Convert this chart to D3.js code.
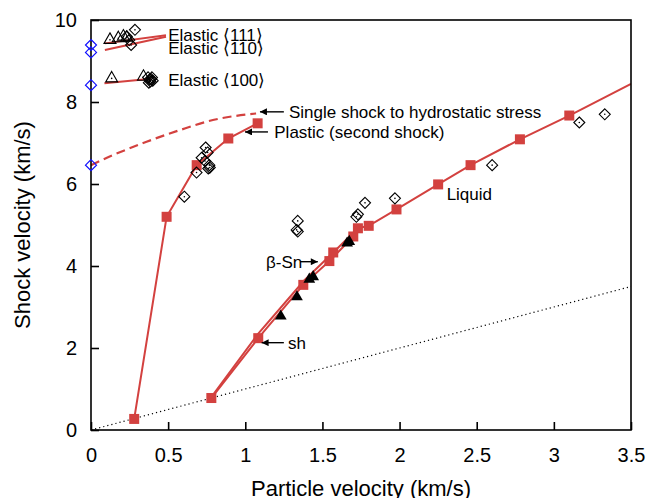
<!DOCTYPE html>
<html>
<head>
<meta charset="utf-8">
<script src="https://cdn.jsdelivr.net/npm/d3@7"></script>
<style>
  body { margin: 0; background: #fff; }
  text { font-family: "Liberation Sans", Arial, Helvetica, sans-serif; fill: #000; }
</style>
</head>
<body>
<div id="chart"></div>
<script>
// ---- data (particle velocity up, shock velocity us, km/s) ----
const plasticUp = [0.28, 0.49, 0.685, 0.89, 1.08];
const plasticUs = [0.27, 5.2, 6.46, 7.11, 7.48];

const hydroUp = [0, 0.14, 0.36, 0.58, 0.79, 1.07];   // single shock to hydrostatic stress
const hydroUs = [6.46, 6.7, 7.03, 7.32, 7.56, 7.72];

const el111Up = [0.09, 0.486], el111Us = [9.43, 9.63];
const el110Up = [0.09, 0.486], el110Us = [9.27, 9.59];
const el100Up = [0.087, 0.39], el100Us = [8.46, 8.57];

const shUp = [0.78, 1.084, 1.376, 1.545, 1.70];
const shUs = [0.78, 2.24, 3.54, 4.12, 4.72];
const bSnUp = [0.78, 1.08, 1.38, 1.57, 1.73];
const bSnUs = [0.80, 2.33, 3.64, 4.33, 4.92];
const liqUp = [1.73, 1.8, 1.98, 2.25, 2.46, 2.78, 3.1, 3.5];
const liqUs = [4.92, 4.98, 5.38, 5.99, 6.46, 7.09, 7.67, 8.44];

// red square markers (calculations)
const sqUp = [0.28, 0.49, 0.685, 0.89, 1.08, 0.78, 1.084, 1.376, 1.545, 1.70, 1.57, 1.73,
              1.8, 1.98, 2.25, 2.46, 2.78, 3.1];
const sqUs = [0.27, 5.2, 6.46, 7.11, 7.48, 0.78, 2.24, 3.54, 4.12, 4.72, 4.33, 4.92,
              4.98, 5.38, 5.99, 6.46, 7.09, 7.67];

// blue diamonds on the axis (up = 0)
const blueUs = [9.39, 9.21, 8.41, 6.46];

// open triangles (experiment)
const triUp = [0.123, 0.177, 0.21, 0.232, 0.134, 0.34];
const triUs = [9.54, 9.58, 9.62, 9.59, 8.6, 8.64];

// open diamonds (experiment)
const dmUp = [0.285, 0.232, 0.248, 0.26,
              0.37, 0.38, 0.385, 0.39, 0.395, 0.40, 0.375,
              0.743, 0.756, 0.717, 0.739, 0.767, 0.76, 0.77, 0.684, 0.605,
              1.34, 1.333, 1.34, 1.776, 1.73, 1.72, 1.97, 2.6, 3.165, 3.33];
const dmUs = [9.76, 9.6, 9.51, 9.39,
              8.6, 8.55, 8.5, 8.56, 8.6, 8.52, 8.47,
              6.89, 6.77, 6.64, 6.56, 6.46, 6.38, 6.4, 6.28, 5.69,
              5.1, 4.88, 4.84, 5.54, 5.26, 5.2, 5.65, 6.46, 7.5, 7.7];

// filled triangles
const ftUp = [1.23, 1.335, 1.415, 1.44, 1.66, 1.674];
const ftUs = [2.8, 3.27, 3.7, 3.76, 4.58, 4.62];

const xTicks = [0, 0.5, 1, 1.5, 2, 2.5, 3, 3.5];
const yTicks = [0, 2, 4, 6, 8, 10];

// ---- layout ----
const W = 653, H = 498;
const x = d3.scaleLinear().domain([0, 3.5]).range([91, 631]);
const y = d3.scaleLinear().domain([0, 10]).range([430, 20]);
const red = "#d3413f";

const svg = d3.select("#chart").append("svg")
  .attr("width", W).attr("height", H);

const defs = svg.append("defs");
defs.append("clipPath").attr("id", "clip")
  .append("rect").attr("x", 91).attr("y", 20).attr("width", 540).attr("height", 410);
defs.append("marker").attr("id", "arr")
  .attr("viewBox", "0 0 10 10").attr("refX", 10).attr("refY", 5)
  .attr("markerWidth", 9).attr("markerHeight", 7).attr("markerUnits", "userSpaceOnUse")
  .attr("orient", "auto")
  .append("path").attr("d", "M0,0 L10,5 L0,10 z").attr("fill", "#000");

const zip = (a, b) => a.map((v, i) => [v, b[i]]);
const line = d3.line().x(d => x(d[0])).y(d => y(d[1]));

const plot = svg.append("g").attr("clip-path", "url(#clip)");

// y = x reference
plot.append("path")
  .datum([[0, 0], [3.5, 3.5]])
  .attr("d", line)
  .attr("fill", "none").attr("stroke", "#000").attr("stroke-width", 1.2)
  .attr("stroke-dasharray", "1.2,3");

// red curves
[[el111Up, el111Us], [el110Up, el110Us], [el100Up, el100Us],
 [plasticUp, plasticUs], [shUp, shUs], [bSnUp, bSnUs], [liqUp, liqUs]].forEach(s => {
  plot.append("path").datum(zip(s[0], s[1]))
    .attr("d", line)
    .attr("fill", "none").attr("stroke", red).attr("stroke-width", 2);
});

plot.append("path").datum(zip(hydroUp, hydroUs))
  .attr("d", d3.line().curve(d3.curveMonotoneX).x(d => x(d[0])).y(d => y(d[1])))
  .attr("fill", "none").attr("stroke", red).attr("stroke-width", 2.2)
  .attr("stroke-dasharray", "9,5");

// squares
plot.selectAll(".sq").data(zip(sqUp, sqUs)).join("rect")
  .attr("x", d => x(d[0]) - 5).attr("y", d => y(d[1]) - 5)
  .attr("width", 10).attr("height", 10).attr("fill", red);

// filled triangles
const triPath = d3.symbol().type(d3.symbolTriangle).size(60);
plot.selectAll(".ft").data(zip(ftUp, ftUs)).join("path")
  .attr("transform", d => `translate(${x(d[0])},${y(d[1]) + 1})`)
  .attr("d", triPath).attr("fill", "#000");

// open triangles
const tg = plot.selectAll(".ot").data(zip(triUp, triUs)).join("g")
  .attr("transform", d => `translate(${x(d[0])},${y(d[1])})`);
tg.append("path").attr("d", "M0,-6 L6,4.5 L-6,4.5 Z")
  .attr("fill", "none").attr("stroke", "#000").attr("stroke-width", 1.1);
tg.append("circle").attr("r", 0.8).attr("cy", 1).attr("fill", "#000");

// open diamonds
const dg = plot.selectAll(".od").data(zip(dmUp, dmUs)).join("g")
  .attr("transform", d => `translate(${x(d[0])},${y(d[1])})`);
dg.append("path").attr("d", "M0,-5.5 L5.5,0 L0,5.5 L-5.5,0 Z")
  .attr("fill", "none").attr("stroke", "#000").attr("stroke-width", 1.1);
dg.append("circle").attr("r", 0.8).attr("fill", "#000");

// axes frame
svg.append("rect").attr("x", 91).attr("y", 20).attr("width", 540).attr("height", 410)
  .attr("fill", "none").attr("stroke", "#000").attr("stroke-width", 1.6);

const xAxis = svg.append("g").attr("transform", "translate(0,430)")
  .call(d3.axisBottom(x).tickValues(xTicks).tickSize(-8).tickPadding(18)
    .tickFormat(d3.format("~g")));
const yAxis = svg.append("g").attr("transform", "translate(91,0)")
  .call(d3.axisLeft(y).tickValues(yTicks).tickSize(-8).tickPadding(14));
[xAxis, yAxis].forEach(a => {
  a.select(".domain").remove();
  a.selectAll(".tick line").attr("stroke", "#000").attr("stroke-width", 1.6);
  a.selectAll(".tick text").style("font-size", "20px")
    .style("font-family", "'Liberation Sans', Arial, sans-serif");
});
xAxis.selectAll(".tick text").attr("dy", "0.71em").attr("y", 18);

// blue diamonds sit on the axis, drawn unclipped
svg.selectAll(".bd").data(blueUs).join("path")
  .attr("transform", d => `translate(${x(0)},${y(d)})`)
  .attr("d", "M0,-5.5 L5.5,0 L0,5.5 L-5.5,0 Z")
  .attr("fill", "none").attr("stroke", "#1010ff").attr("stroke-width", 1.2);

// axis titles
svg.append("text").attr("x", 361).attr("y", 496).attr("text-anchor", "middle")
  .style("font-size", "22px").text("Particle velocity (km/s)");
svg.append("text").attr("transform", "translate(30,225) rotate(-90)")
  .attr("text-anchor", "middle").style("font-size", "22px").text("Shock velocity (km/s)");

// annotations
const labels = [
  ["Elastic \u27e8111\u27e9", 0.50, 9.48],
  ["Elastic \u27e8110\u27e9", 0.50, 9.18],
  ["Elastic \u27e8100\u27e9", 0.50, 8.40],
  ["Single shock to hydrostatic stress", 1.283, 7.61],
  ["Plastic (second shock)", 1.188, 7.12],
  ["Liquid", 2.305, 5.61],
  ["\u03b2-Sn", 1.134, 3.95],
  ["sh", 1.277, 1.98]
];
svg.selectAll(".lab").data(labels).join("text")
  .attr("x", d => x(d[1])).attr("y", d => y(d[2]))
  .style("font-size", "17px").text(d => d[0]);

const arrows = [
  [1.25, 7.76, 1.095, 7.76],
  [1.147, 7.27, 0.998, 7.27],
  [1.355, 4.105, 1.47, 4.105],
  [1.25, 2.13, 1.106, 2.13]
];
svg.selectAll(".arw").data(arrows).join("line")
  .attr("x1", d => x(d[0])).attr("y1", d => y(d[1]))
  .attr("x2", d => x(d[2])).attr("y2", d => y(d[3]))
  .attr("stroke", "#000").attr("stroke-width", 1.4)
  .attr("marker-end", "url(#arr)");
</script>
</body>
</html>
